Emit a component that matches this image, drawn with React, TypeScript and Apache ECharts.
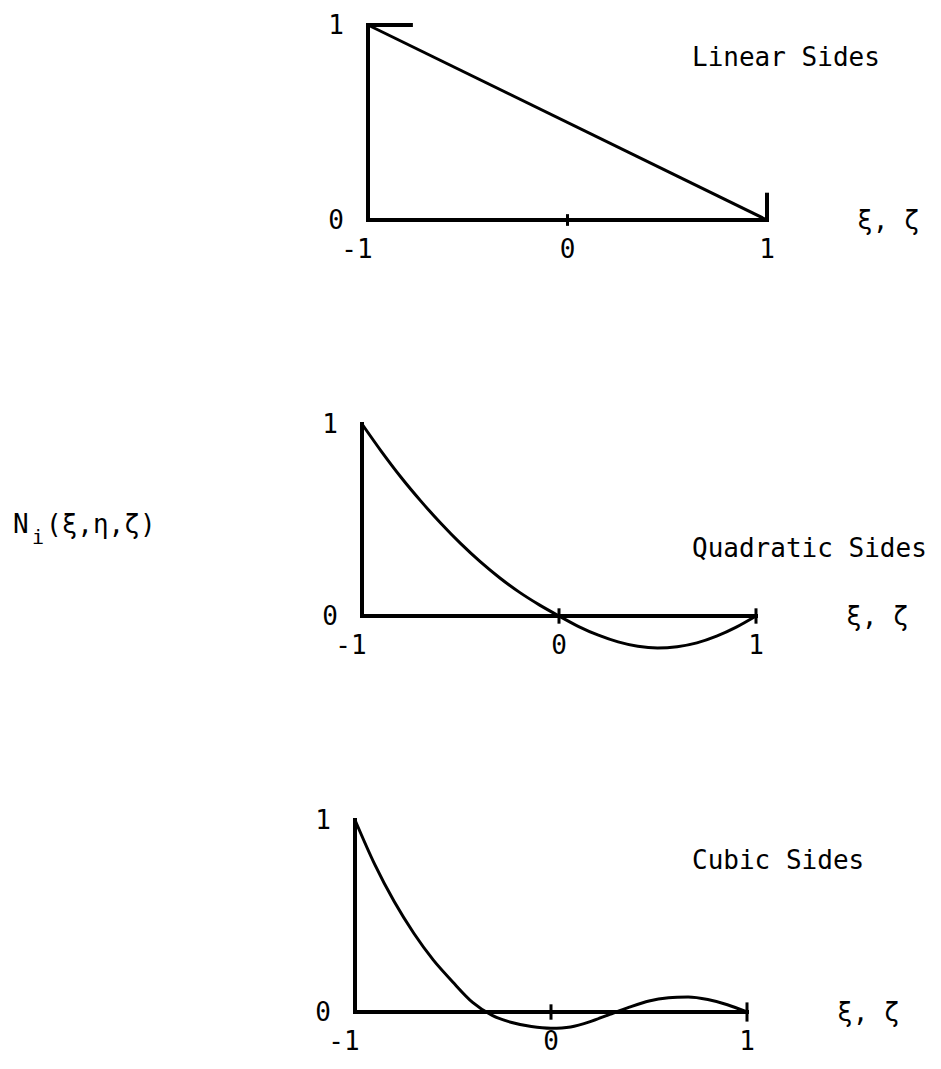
import React, { useEffect, useRef } from "react";
import * as echarts from "echarts";

// Shape functions of a corner node, plotted along one side of the element.
const xiLinear = [-1, 1];
const nLinear = [1, 0];

const xiQuadratic = [-1, -0.9, -0.8, -0.7, -0.6, -0.5, -0.4, -0.3, -0.2, -0.1, 0, 0.1, 0.2, 0.3, 0.4, 0.5, 0.6, 0.7, 0.8, 0.9, 1];
const nQuadratic = [1, 0.855, 0.72, 0.597, 0.483, 0.378, 0.283, 0.198, 0.123, 0.058, 0, -0.055, -0.1, -0.135, -0.158, -0.167, -0.16, -0.14, -0.105, -0.058, 0];

const xiCubic = [-1, -0.9, -0.8, -0.7, -0.6, -0.5, -0.4, -0.3, -0.2, -0.1, 0, 0.1, 0.2, 0.3, 0.4, 0.5, 0.6, 0.7, 0.8, 0.9, 1];
const nCubic = [1, 0.77, 0.575, 0.41, 0.27, 0.155, 0.05, -0.018, -0.055, -0.076, -0.085, -0.078, -0.05, -0.012, 0.025, 0.057, 0.074, 0.078, 0.065, 0.038, 0];

const xTickValues = [-1, 0, 1];
const yTickValues = [0, 1];

const panelTitles = ["Linear Sides", "Quadratic Sides", "Cubic Sides"];
const sideAxisName = "ξ, ζ";
const functionName = "N";
const functionIndex = "i";
const functionArgs = "(ξ,η,ζ)";

// Small marks on the ξ axis: x position and half-height, per panel
const axisMarks = [
  [[0, 0.03]],
  [[0, 0.04], [1, 0.04]],
  [[0, 0.04], [1, 0.05]],
];

// Node flags drawn on the linear panel
const linearTopFlag = [[-1, 1], [-0.775, 1]];
const linearEndFlag = [[1, 0], [1, 0.14]];

const curves = [
  { xi: xiLinear, n: nLinear, smooth: false },
  { xi: xiQuadratic, n: nQuadratic, smooth: true },
  { xi: xiCubic, n: nCubic, smooth: true },
];

const FONT = "DejaVu Sans Mono";
const INK = "#000";

const grids = [
  { left: 368, top: 25, width: 399, height: 195 },
  { left: 362, top: 424, width: 394, height: 192 },
  { left: 355, top: 820, width: 392, height: 192 },
];

const titlePositions = [
  { x: 692, y: 57 },
  { x: 692, y: 548 },
  { x: 692, y: 860 },
];

// Lift of the ξ, ζ name above its axis line, per panel
const nameLift = [22, 12, 2];

function buildOption() {
  const series: any[] = [];
  const xAxes: any[] = [];
  const yAxes: any[] = [];

  grids.forEach((_, i) => {
    xAxes.push({
      gridIndex: i,
      type: "value",
      min: -1,
      max: 1,
      interval: 1,
      axisLine: { show: false },
      axisTick: { show: false },
      splitLine: { show: false },
      showMinLabel: true,
      showMaxLabel: true,
      name: sideAxisName,
      nameLocation: "end",
      nameGap: 90,
      nameTextStyle: {
        fontFamily: FONT,
        fontSize: 26,
        color: INK,
        align: "left",
        verticalAlign: "middle",
        padding: [0, 0, nameLift[i], 0],
      },
      axisLabel: {
        fontFamily: FONT,
        fontSize: 26,
        color: INK,
        margin: 16,
        formatter: (v: number) => (v === -1 ? "{neg|-1}" : String(v)),
        rich: {
          neg: { fontFamily: FONT, fontSize: 26, color: INK, padding: [0, 22, 0, 0] },
        },
      },
    });
    yAxes.push({
      gridIndex: i,
      type: "value",
      min: 0,
      max: 1,
      interval: 1,
      axisLine: { show: false },
      axisTick: { show: false },
      splitLine: { show: false },
      axisLabel: {
        fontFamily: FONT,
        fontSize: 26,
        color: INK,
        margin: 24,
        formatter: (v: number) => (yTickValues.includes(v) ? String(v) : ""),
      },
    });

    const base = {
      type: "line",
      xAxisIndex: i,
      yAxisIndex: i,
      symbol: "none",
      clip: false,
      silent: true,
    };

    // Frame: ordinate at ξ = -1 and the ξ axis from -1 to 1
    series.push({
      ...base,
      data: [
        [xTickValues[0], yTickValues[1]],
        [xTickValues[0], yTickValues[0]],
        [xTickValues[2], yTickValues[0]],
      ],
      lineStyle: { color: INK, width: 4, cap: "square", join: "miter" },
    });

    axisMarks[i].forEach(([x, h]) => {
      series.push({
        ...base,
        data: [[x, -h], [x, h]],
        lineStyle: { color: INK, width: 3 },
      });
    });

    const c = curves[i];
    series.push({
      ...base,
      smooth: c.smooth ? 0.3 : false,
      data: c.xi.map((x, k) => [x, c.n[k]]),
      lineStyle: { color: INK, width: 3 },
    });
  });

  series.push({
    type: "line",
    xAxisIndex: 0,
    yAxisIndex: 0,
    symbol: "none",
    clip: false,
    silent: true,
    data: linearTopFlag,
    lineStyle: { color: INK, width: 4 },
  });
  series.push({
    type: "line",
    xAxisIndex: 0,
    yAxisIndex: 0,
    symbol: "none",
    clip: false,
    silent: true,
    data: linearEndFlag,
    lineStyle: { color: INK, width: 4 },
  });

  const graphic: any[] = panelTitles.map((t, i) => ({
    type: "text",
    x: titlePositions[i].x,
    y: titlePositions[i].y,
    style: {
      text: t,
      fontFamily: FONT,
      fontSize: 26,
      fill: INK,
      textAlign: "left",
      textVerticalAlign: "middle",
    },
  }));

  graphic.push({
    type: "group",
    x: 13,
    y: 524,
    children: [
      {
        type: "text",
        x: 0,
        y: 0,
        style: { text: functionName, fontFamily: FONT, fontSize: 26, fill: INK, textVerticalAlign: "middle" },
      },
      {
        type: "text",
        x: 19,
        y: 13,
        style: { text: functionIndex, fontFamily: FONT, fontSize: 20, fill: INK, textVerticalAlign: "middle" },
      },
      {
        type: "text",
        x: 33,
        y: 0,
        style: { text: functionArgs, fontFamily: FONT, fontSize: 26, fill: INK, textVerticalAlign: "middle" },
      },
    ],
  });

  return {
    animation: false,
    backgroundColor: "#ffffff",
    grid: grids.map((g) => ({ ...g, containLabel: false })),
    xAxis: xAxes,
    yAxis: yAxes,
    series,
    graphic,
  };
}

export default function App() {
  const ref = useRef<HTMLDivElement>(null);

  useEffect(() => {
    if (!ref.current) return;
    const chart = echarts.init(ref.current, undefined, { renderer: "svg" });
    chart.setOption(buildOption() as any);
    return () => chart.dispose();
  }, []);

  return (
    <div
      ref={ref}
      style={{ position: "fixed", left: 0, top: 0, width: 941, height: 1069, background: "#fff" }}
    />
  );
}
